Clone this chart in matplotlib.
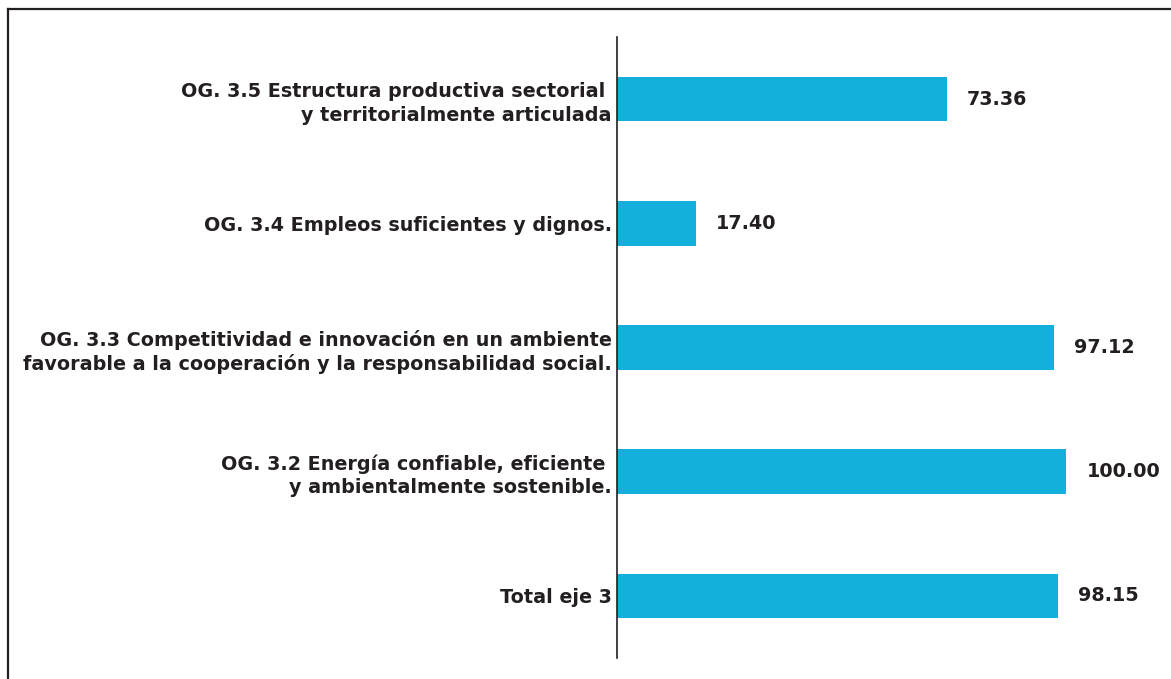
import matplotlib.pyplot as plt
from matplotlib.lines import Line2D

# datos del eje 3 (de abajo hacia arriba)
categorias = [
    "Total eje 3",
    "OG. 3.2 Energía confiable, eficiente \ny ambientalmente sostenible.",
    "OG. 3.3 Competitividad e innovación en un ambiente\nfavorable a la cooperación y la responsabilidad social.",
    "OG. 3.4 Empleos suficientes y dignos.",
    "OG. 3.5 Estructura productiva sectorial \ny territorialmente articulada",
]
valores = [98.15, 100.00, 97.12, 17.40, 73.36]
etiquetas = ["98.15", "100.00", "97.12", "17.40", "73.36"]

plt.rcParams['font.family'] = ['DejaVu Sans']
texto = '#231F20'

fig = plt.figure(figsize=(11.71, 6.79), dpi=100)
ax = fig.add_axes([0.5273, 0.0309, 0.4601, 0.9146])

pos = range(len(valores))
ax.barh(pos, valores, height=0.36, color='#12B0DA')
ax.set_xlim(0, 120)
ax.set_ylim(-0.5, 4.5)

for y, v, t in zip(pos, valores, etiquetas):
    ax.text(v + 4.5, y, t, va='center', ha='left', fontsize=13.8,
            fontweight='bold', color=texto)

ax.set_yticks(list(pos))
ax.set_yticklabels(categorias, fontsize=13.8, fontweight='bold', color=texto,
                   linespacing=1.3)
ax.tick_params(axis='y', length=0, pad=4)
ax.set_xticks([])
for s in ['top', 'right', 'bottom']:
    ax.spines[s].set_visible(False)
ax.spines['left'].set_linewidth(1.2)
ax.spines['left'].set_color(texto)

# marco exterior (solo borde superior e izquierdo visibles)
fig.add_artist(Line2D([0.0068, 0.0068], [0, 0.987], transform=fig.transFigure,
                      color=texto, linewidth=1.6))
fig.add_artist(Line2D([0.0068, 1.0], [0.987, 0.987], transform=fig.transFigure,
                      color=texto, linewidth=1.6))

plt.savefig("out.png", dpi=100)
